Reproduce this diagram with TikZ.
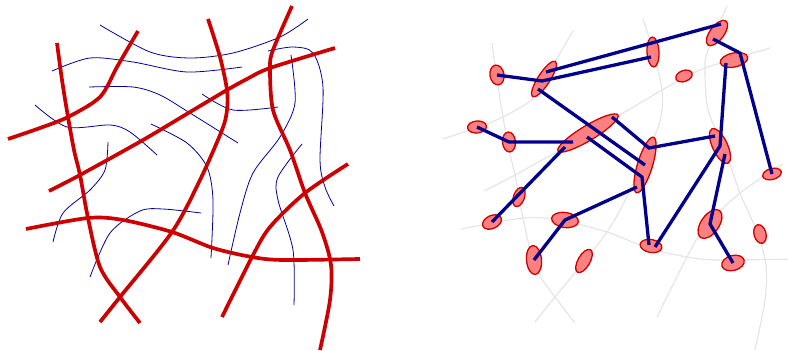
\documentclass[tikz,border=0pt]{standalone}
\usepackage{xcolor}
\usepackage{tikz}
\usetikzlibrary{shapes.geometric,calc}

\definecolor{fibrered}{RGB}{204,0,0}
\definecolor{blobred}{RGB}{255,128,128}
\definecolor{strandblue}{RGB}{0,0,150}
\definecolor{linkblue}{RGB}{0,0,140}

\begin{document}
\begin{tikzpicture}[x=1pt, y=-1pt,
  fibre/.style={draw=fibrered, line width=3.7pt},
  ghost/.style={draw=black!10, line width=1.2pt},
  strand/.style={draw=strandblue, line width=0.8pt},
  blob/.style={ellipse, draw=fibrered, fill=blobred, line width=1.3pt, inner sep=0pt},
  link/.style={draw=linkblue, line width=3.3pt}
]
\useasboundingbox (0,0) rectangle (788,351);

% Feine Fäden links
\draw[strand] plot[smooth] coordinates {(100,25) (150,52) (190,58) (233,53) (280,37) (308,19)};
\draw[strand] plot[smooth] coordinates {(52,71) (90,58) (133,62) (187,72) (242,67)};
\draw[strand] plot[smooth] coordinates {(89,87) (133,87) (160,95) (190,113) (238,143)};
\draw[strand] plot[smooth] coordinates {(35,105) (67,127) (110,125) (130,132) (157,155)};
\draw[strand] plot[smooth] coordinates {(202,94) (233,110) (278,107)};
\draw[strand] plot[smooth] coordinates {(268,51) (293,47) (313,53) (323,87) (320,160) (325,187) (334,206)};
\draw[strand] plot[smooth] coordinates {(291,55) (295,103) (280,137) (253,173) (240,213) (228,265)};
\draw[strand] plot[smooth] coordinates {(151,124) (187,143) (207,167) (213,200) (211,258)};
\draw[strand] plot[smooth] coordinates {(108,142) (105,170) (90,190) (63,213) (53,242)};
\draw[strand] plot[smooth] coordinates {(90,277) (110,233) (140,211) (163,209) (201,213)};
\draw[strand] plot[smooth] coordinates {(302,144) (278,177) (278,200) (293,250) (294,305)};

% Dicke Fasern links, blass rechts wiederholt
\foreach \dx/\st in {435/ghost, 0/fibre} {
  \begin{scope}[xshift=\dx]
    \draw[\st] plot[smooth] coordinates {(8,139) (40,128) (68,117) (100,97) (117,67) (138,31)};
    \draw[\st] plot[smooth] coordinates {(57,43) (62,80) (68,117) (74,150) (80,175) (88,218) (100,267) (120,297) (140,323)};
    \draw[\st] plot[smooth] coordinates {(49,191) (80,175) (143,140) (190,112) (227,90) (247,79) (270,68) (335,48)};
    \draw[\st] plot[smooth] coordinates {(208,19) (220,57) (227,90) (227,110) (222,130) (200,180) (172,232) (120,297) (100,322)};
    \draw[\st] plot[smooth] coordinates {(292,6) (273,50) (270,68) (273,110) (290,150) (305,193) (322,232) (331,265) (330,300) (320,350)};
    \draw[\st] plot[smooth] coordinates {(26,229) (88,218) (123,220) (172,232) (213,248) (252,257) (283,260) (360,259)};
    \draw[\st] plot[smooth] coordinates {(222,317) (252,257) (270,227) (305,193) (348,164)};
  \end{scope}
}

% Kontaktstellen
\foreach \n/\x/\y/\w/\h/\a in {
    e1/497/75/20/14/100, e2/544/79/42/12/57, e3/653/52/30/12/93,
    e4/717/33/30/14/53, e5/734/60/28/14/12, e6/684/76/17/11/20,
    e7/477/127/19/12/5, e8/509/142/20/13/95, e9/588/133/70/15/31,
    e10/645/165/58/15/73, e11/720/146/38/15/115, e12/772/174/19/11/15,
    e13/519/197/20/11/70, e14/492/222/20/13/25, e15/565/220/27/15/-8,
    e16/534/260/29/15/95, e17/584/261/26/12/60, e18/651/246/22/13/-10,
    e19/710/224/33/18/55, e20/760/234/19/12/105, e21/733/263/23/15/15}
  \node[blob, minimum width=\w pt, minimum height=\h pt, rotate=\a] (\n) at (\x,\y) {};

% Verbindungen
\draw[link] (e1.center) -- ($(e2)+(-2,2)$) -- ($(e3)+(-2,5)$);
\draw[link] ($(e2)+(2,-7)$) -- ($(e4)+(4,-9)$);
\draw[link] ($(e4)+(-4,6)$) -- ($(e5)+(6,-7)$) -- (e12.center);
\draw[link] ($(e5)+(-8,3)$) -- (e11.center) -- ($(e18)+(4,1)$);
\draw[link] ($(e2)+(-6,10)$) -- (e10.center);
\draw[link] ($(e9)+(24,-16)$) -- ($(e10)+(4,-17)$) -- ($(e11)+(-5,-10)$);
\draw[link] (e7.center) -- (e8.center) -- ($(e9)+(-15,9)$);
\draw[link] ($(e9)+(-23,14)$) -- (e14.center);
\draw[link] ($(e9)+(-1,4)$) -- ($(e10)+(-3,12)$) -- ($(e18)+(-2,-1)$);
\draw[link] ($(e10)+(-8,22)$) -- (e15.center) -- (e16.center);
\draw[link] ($(e11)+(5,8)$) -- (e19.center) -- (e21.center);

\end{tikzpicture}
\end{document}
